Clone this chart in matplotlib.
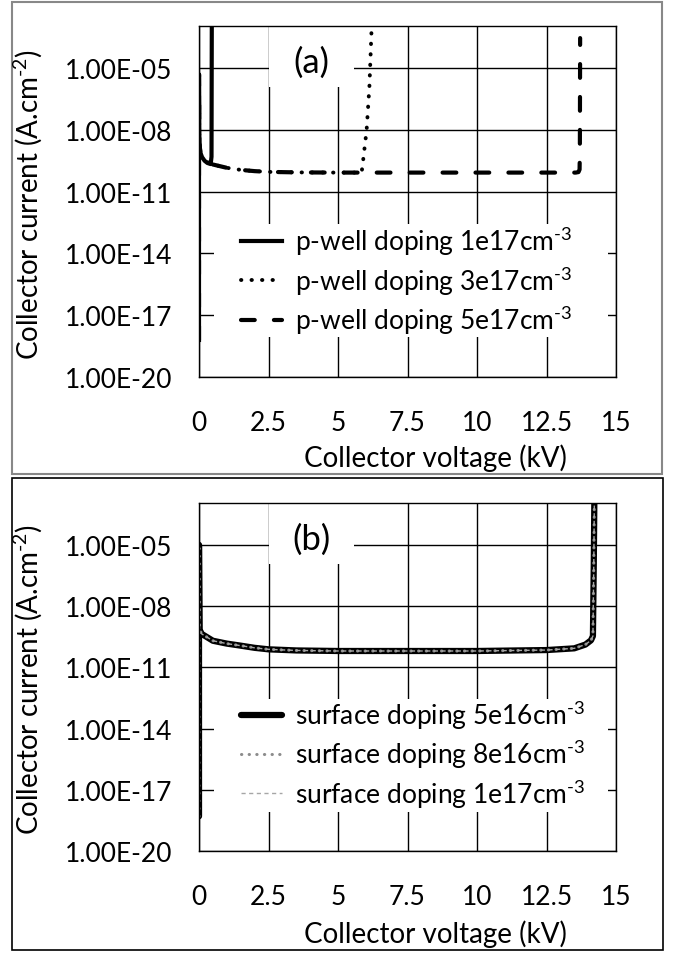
import matplotlib
matplotlib.use("Agg")
import matplotlib.pyplot as plt
from matplotlib.patches import Rectangle
from matplotlib.ticker import FixedLocator, NullLocator

plt.rcParams['font.family'] = ['Lato', 'DejaVu Sans']
plt.rcParams['mathtext.default'] = 'regular'

# ---- panel (a): p-well doping ----
v_a_1e17 = [0, 0, 0.01, 0.05, 0.1, 0.2, 0.3, 0.42, 0.45, 0.455, 0.46]
i_a_1e17 = [6.3e-19, 5e-6, 2.5e-9, 8e-10, 5e-10, 3.2e-10, 2.5e-10, 2.2e-10,
            5e-10, 1e-6, 1e-3]

v_a_3e17 = [0, 0, 0.01, 0.05, 0.1, 0.2, 0.5, 1.0, 1.5, 2.0, 2.5, 3.5, 5.0,
            5.85, 5.9, 6.03, 6.13, 6.21]
i_a_3e17 = [6.3e-19, 5e-6, 2.5e-9, 8e-10, 5e-10, 3.2e-10, 2.1e-10, 1.45e-10,
            1.15e-10, 1.0e-10, 9.2e-11, 8.7e-11, 8.5e-11, 8.5e-11, 3e-10,
            1e-8, 1.3e-6, 1e-3]

v_a_5e17 = [0, 0, 0.01, 0.05, 0.1, 0.2, 0.5, 1.0, 1.5, 2.0, 2.5, 3.5, 5.0,
            10.0, 13.55, 13.65, 13.69, 13.7, 13.71]
i_a_5e17 = [6.3e-19, 5e-6, 2.5e-9, 8e-10, 5e-10, 3.2e-10, 2.1e-10, 1.45e-10,
            1.15e-10, 1.0e-10, 9.2e-11, 8.7e-11, 8.5e-11, 8.5e-11, 8.5e-11,
            9e-11, 1.2e-10, 1e-9, 2.9e-4]

# ---- panel (b): surface doping (curves lie on top of each other) ----
v_b = [0, 0, 0.02, 0.1, 0.5, 1.0, 1.5, 2.0, 2.5, 3.5, 5.0, 7.5, 10.0,
       12.5, 13.5, 13.9, 14.1, 14.17, 14.2, 14.22]
i_b_5e16 = [5e-19, 1e-5, 7e-10, 4.3e-10, 2e-10, 1.45e-10, 1.15e-10, 9e-11,
            7.6e-11, 6.7e-11, 6.3e-11, 6.3e-11, 6.3e-11, 7.0e-11, 8.5e-11,
            1.3e-10, 2.1e-10, 3.4e-10, 1e-6, 1e-3]
i_b_8e16 = list(i_b_5e16)
i_b_1e17 = list(i_b_5e16)

y_ticks = [1e-20, 1e-17, 1e-14, 1e-11, 1e-8, 1e-5]
y_tick_labels = ['1.00E-20', '1.00E-17', '1.00E-14', '1.00E-11',
                 '1.00E-08', '1.00E-05']
x_ticks = [0, 2.5, 5, 7.5, 10, 12.5, 15]
x_tick_labels = ['0', '2.5', '5', '7.5', '10', '12.5', '15']

W, H = 673, 954
FS = 19
HY = '\u2010'  # short hyphen for the superscripts


def fx(px):
    return px / W


def fy(py):
    return 1 - py / H


def sup(txt):
    return '$^{' + HY + txt + '}$'


def setup(ax, tag):
    ax.set_yscale('log')
    ax.set_xlim(0, 15)
    ax.set_ylim(1e-20, 10 ** -2.95)
    ax.yaxis.set_major_locator(FixedLocator(y_ticks))
    ax.yaxis.set_minor_locator(NullLocator())
    ax.set_yticklabels(y_tick_labels)
    ax.set_xticks(x_ticks)
    ax.set_xticklabels(x_tick_labels)
    ax.set_axisbelow(True)
    ax.grid(True, color='black', lw=1.0)
    ax.tick_params(axis='y', length=0, labelsize=FS, pad=19)
    ax.tick_params(axis='x', length=0, labelsize=FS, pad=24)
    for s in ax.spines.values():
        s.set_color('black')
        s.set_linewidth(1.0)
    # white box behind the panel tag
    ax.add_patch(Rectangle((0.168, 0.826), 0.204, 0.2, transform=ax.transAxes,
                           facecolor='white', edgecolor='none', zorder=1,
                           clip_on=False))
    ax.text(0.269, 0.897, tag, transform=ax.transAxes, fontsize=25,
            ha='center', va='center', zorder=3)
    # white box behind the legend
    ax.add_patch(Rectangle((0.036, 0.113), 0.945, 0.323, transform=ax.transAxes,
                           facecolor='white', edgecolor='none', zorder=1))


fig = plt.figure(figsize=(W / 100, H / 100), dpi=100)

# outer frames of the two panels
fig.add_artist(Rectangle((fx(12), fy(475)), fx(650), 472 / H,
                         transform=fig.transFigure, fill=False,
                         edgecolor='#888888', lw=1.5))
fig.add_artist(Rectangle((fx(12), fy(951)), fx(651), 472 / H,
                         transform=fig.transFigure, fill=False,
                         edgecolor='black', lw=1.2))

# ---- panel (a) ----
ax1 = fig.add_axes([fx(199), fy(378), fx(417), 351 / H])
setup(ax1, '(a)')
ax1.plot(v_a_5e17, i_a_5e17, color='black', lw=3,
         linestyle=(0, (3.3, 4.6)), dash_capstyle='round', zorder=2,
         label='p-well doping 5e17cm' + sup('3'))
ax1.plot(v_a_3e17, i_a_3e17, color='black', lw=2.8,
         linestyle=(0, (0.1, 2.6)), dash_capstyle='round', zorder=2,
         label='p-well doping 3e17cm' + sup('3'))
ax1.plot(v_a_1e17, i_a_1e17, color='black', lw=3, zorder=2,
         label='p-well doping 1e17cm' + sup('3'))
h, l = ax1.get_legend_handles_labels()
ax1.legend(h[::-1], l[::-1], loc='center left', bbox_to_anchor=(0.1, 0.276),
           frameon=False, fontsize=FS, handlelength=1.55, handletextpad=0.5,
           labelspacing=0.25, borderpad=0, borderaxespad=0)

fig.text(fx(28), fy(205), 'Collector current (A.cm' + sup('2') + ')',
         rotation=90, ha='center', va='center', fontsize=20)
fig.text(fx(435), fy(458), 'Collector voltage (kV)', ha='center',
         va='center', fontsize=20)

# ---- panel (b) ----
ax2 = fig.add_axes([fx(199), fy(852), fx(417), 348 / H])
setup(ax2, '(b)')
ax2.plot(v_b, i_b_5e16, color='black', lw=4.5, solid_capstyle='round',
         zorder=2, label='surface doping 5e16cm' + sup('3'))
ax2.plot(v_b, i_b_8e16, color='#8c8c8c', lw=2.2,
         linestyle=(0, (0.1, 2.4)), dash_capstyle='round', zorder=2,
         label='surface doping 8e16cm' + sup('3'))
ax2.plot(v_b, i_b_1e17, color='#a6a6a6', lw=1.0,
         linestyle=(0, (3, 2.5)), zorder=2,
         label='surface doping 1e17cm' + sup('3'))
ax2.legend(loc='center left', bbox_to_anchor=(0.1, 0.279),
           frameon=False, fontsize=FS, handlelength=1.55, handletextpad=0.5,
           labelspacing=0.25, borderpad=0, borderaxespad=0)

fig.text(fx(28), fy(680), 'Collector current (A.cm' + sup('2') + ')',
         rotation=90, ha='center', va='center', fontsize=20)
fig.text(fx(435), fy(934), 'Collector voltage (kV)', ha='center',
         va='center', fontsize=20)

fig.savefig('out.png', dpi=100)
